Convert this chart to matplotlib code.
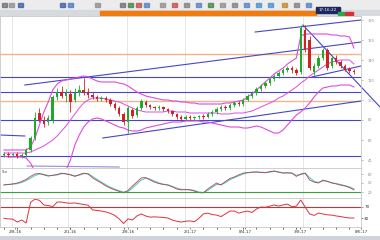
import numpy as np
import matplotlib
matplotlib.use("Agg")
import matplotlib.pyplot as plt
from matplotlib.patches import Rectangle

# weekly candles (price units)
opens = [45, 46, 45, 46, 44, 45, 50, 62, 87, 80, 78, 80, 103, 108, 104, 106, 100, 107, 110, 107,
         105, 103, 101, 102, 100, 96, 92, 86, 78, 90, 85, 92, 98, 95, 93, 92, 93, 91, 89, 86,
         83, 81, 83, 82, 83, 84, 83, 86, 88, 91, 93, 92, 95, 97, 96, 100, 104, 107, 111, 114,
         117, 121, 124, 127, 130, 132, 130, 128, 170, 160, 128, 134, 142, 150, 134, 142, 138, 134, 131, 129]
closes = [46, 45, 46, 44, 45, 50, 62, 82, 80, 76, 82, 103, 108, 104, 107, 98, 107, 110, 107, 105,
          103, 101, 102, 100, 96, 92, 86, 78, 92, 84, 92, 99, 95, 93, 92, 93, 91, 89, 86, 83,
          81, 83, 82, 83, 84, 83, 86, 88, 91, 93, 92, 95, 97, 96, 100, 104, 107, 111, 114, 117,
          121, 124, 127, 130, 132, 130, 127, 172, 150, 132, 134, 142, 150, 132, 142, 138, 134, 131, 129, 128]
highs = [48, 48, 47, 48, 47, 52, 64, 88, 92, 84, 85, 105, 112, 114, 111, 110, 112, 115, 122, 112,
         108, 105, 104, 104, 102, 98, 94, 88, 94, 92, 94, 101, 100, 96, 94, 95, 94, 92, 90, 87,
         85, 85, 85, 84, 85, 86, 88, 90, 93, 95, 95, 97, 99, 99, 102, 106, 109, 113, 116, 119,
         123, 126, 129, 132, 134, 134, 132, 175, 175, 164, 137, 145, 152, 152, 145, 145, 140, 136, 133, 131]
lows = [43, 43, 44, 42, 42, 43, 48, 60, 78, 73, 75, 77, 100, 102, 98, 88, 98, 104, 105, 102,
        101, 99, 99, 98, 94, 90, 84, 75, 67, 82, 83, 90, 93, 91, 90, 90, 89, 87, 84, 81,
        79, 80, 80, 80, 81, 81, 82, 84, 86, 89, 90, 90, 93, 94, 94, 99, 102, 105, 109, 112,
        115, 119, 122, 125, 128, 127, 125, 126, 148, 130, 125, 132, 140, 130, 132, 136, 132, 129, 127, 126]

# bollinger bands
upper_band = [50, 50, 50, 50, 50, 50, 53, 62, 75, 88, 98, 110, 116, 119, 120, 121, 122, 123, 124, 123,
              121, 119, 118, 118, 118, 118, 117, 116, 114, 111, 108, 106, 104, 103, 102, 101, 100, 100, 99, 99,
              98, 98, 97, 97, 96, 96, 96, 96, 96, 96, 97, 97, 98, 99, 100, 103, 106, 110, 114, 118,
              122, 126, 129, 132, 136, 139, 142, 164, 166, 166, 166, 166, 166, 166, 165, 165, 164, 164, 163, 152]
mid_band = [47, 47, 47, 47, 47, 47, 48, 50, 52, 54, 57, 60, 64, 69, 74, 80, 86, 92, 97, 100,
            102, 102, 102, 101, 100, 99, 98, 96, 94, 92, 90, 89, 88, 88, 88, 88, 88, 89, 89, 88,
            88, 88, 87, 87, 87, 87, 87, 87, 87, 86, 86, 86, 87, 87, 87, 88, 89, 91, 93, 95,
            97, 99, 102, 104, 107, 110, 113, 117, 120, 124, 127, 130, 133, 136, 138, 139, 140, 140, 140, 136]
lower_band = [44, 43, 43, 43, 43, 42, 37, 28, 20, 15, 12, 10, 15, 22, 30, 40, 55, 65, 73, 78,
              81, 82, 81, 79, 77, 75, 73, 72, 70, 69, 69, 70, 72, 73, 74, 75, 76, 77, 78, 78,
              78, 79, 79, 79, 79, 78, 78, 77, 76, 75, 74, 73, 73, 73, 72, 72, 73, 74, 73, 71,
              69, 67, 67, 70, 75, 80, 85, 88, 92, 97, 103, 108, 112, 113, 114, 114, 115, 115, 115, 113]

# stochastic
stoch_k = [43, 45, 47, 50, 55, 62, 72, 80, 82, 77, 73, 76, 78, 83, 80, 77, 72, 78, 83, 80,
           67, 58, 50, 40, 33, 27, 22, 17, 25, 40, 53, 67, 68, 60, 53, 48, 45, 43, 37, 30,
           27, 28, 27, 23, 18, 17, 30, 40, 50, 43, 55, 65, 70, 77, 83, 85, 86, 87, 85, 84,
           88, 90, 86, 83, 84, 83, 72, 80, 83, 60, 53, 50, 60, 55, 50, 47, 43, 40, 35, 27]
stoch_d = [45, 45, 46, 48, 52, 58, 66, 75, 80, 79, 75, 75, 77, 81, 81, 78, 74, 76, 81, 81,
           72, 62, 53, 44, 36, 30, 24, 20, 22, 33, 47, 60, 66, 63, 56, 50, 46, 44, 39, 33,
           29, 28, 28, 25, 20, 18, 25, 36, 45, 45, 51, 61, 68, 74, 80, 84, 86, 86, 86, 85,
           86, 89, 87, 84, 84, 83, 76, 78, 82, 68, 56, 52, 57, 56, 51, 48, 45, 41, 37, 30]

# rsi
rsi = [30, 28, 27, 17, 24, 14, 85, 96, 92, 76, 74, 70, 86, 86, 83, 82, 83, 80, 78, 75,
       59, 57, 55, 52, 47, 40, 28, 12, 28, 24, 38, 45, 38, 34, 35, 34, 33, 31, 24, 20,
       17, 20, 21, 18, 30, 45, 48, 43, 41, 36, 45, 55, 55, 48, 52, 55, 50, 62, 69, 68,
       72, 76, 72, 76, 79, 70, 72, 93, 69, 45, 40, 48, 45, 42, 41, 38, 36, 33, 31, 31]

blue_levels = [123, 108, 80, 44]
orange_levels = [146, 99]
# trend lines: (bar, price) -> (bar, price)
trend_lines = [
    ((4.7, 115), (80.6, 158)),
    ((56.7, 168), (80.6, 180)),
    ((22.3, 62), (80.6, 99)),
    ((69.5, 123), (80.6, 134)),
    ((-0.9, 65), (4.7, 64)),
]
down_line = ((67.5, 175), (84.9, 93))

date_pos = [2.5, 14.9, 28.0, 42.0, 54.4, 66.8, 80.6]
date_labels = ["2/8-16", "2/1-16", "2/8-16", "2/1-17", "8/4-17", "3/8-17", "8/6-17"]
grid_pos = [1.8, 14.4, 27.8, 40.9, 54.4, 67.5]

W, H = 380, 240


def box(x0, y0, x1, y1):
    return [x0 / W, 1 - y1 / H, (x1 - x0) / W, (y1 - y0) / H]


fig = plt.figure(figsize=(3.8, 2.4), dpi=100)
fig.patch.set_facecolor('white')

# toolbar strip
bar = fig.add_axes(box(0, 0, 380, 16))
bar.set_xlim(0, 380)
bar.set_ylim(16, 0)
bar.axis('off')
bar.add_patch(Rectangle((0, 0), 380, 10, color='#ececec'))
bar.add_patch(Rectangle((0, 10), 380, 6, color='#d6d9de'))
bar.add_patch(Rectangle((100, 11), 216, 4, color='#f07c10'))
bar.add_patch(Rectangle((316, 7), 24, 6, color='#1b2a5c'))
bar.text(328, 10, "17:16:22", color='white', fontsize=3, ha='center', va='center')
bar.add_patch(Rectangle((338, 12), 6, 3, color='#2aa84a'))
bar.add_patch(Rectangle((345, 12), 8, 3, color='#d63030'))
icon_x = [2, 9, 18, 60, 68, 95, 120, 128, 136, 144, 160, 172, 184, 196, 208, 220, 232, 244, 256, 268, 282, 294, 306]
icon_c = ['#666666', '#888888', '#3050a0', '#3050a0', '#4070c0', '#888888', '#666666', '#3a7a3a', '#c04040',
          '#4a7ac0', '#888888', '#c04040', '#777777', '#4a7ac0', '#3a7a3a', '#888888', '#777777', '#4a7ac0',
          '#3a8ad0', '#3a8ad0', '#c08020', '#777777', '#4a7ac0']
for ix, ic in zip(icon_x, icon_c):
    bar.add_patch(Rectangle((ix, 3), 5, 4, color=ic, alpha=0.7))

ax = fig.add_axes(box(0, 16, 361, 168))
ax1 = fig.add_axes(box(0, 168, 361, 198), sharex=ax)
ax2 = fig.add_axes(box(0, 198, 361, 227), sharex=ax)

idx = np.arange(len(closes))
o = np.array(opens)
c = np.array(closes)
up = c >= o
colors = np.where(up, '#1faa2a', '#d42020')

for a in (ax, ax1, ax2):
    for g in grid_pos:
        a.axvline(g, color='#e2e2e2', lw=0.6, zorder=0)
    for s in a.spines.values():
        s.set_color('#c8c8c8')
        s.set_linewidth(0.6)
    a.tick_params(left=False, labelleft=False, bottom=False, labelbottom=False,
                  right=True, labelright=True, labelsize=2.5, length=1.5, colors='#888888', width=0.4)

for lv in orange_levels:
    ax.axhline(lv, color='#f4b48a', lw=1.0, zorder=1)
for lv in blue_levels:
    ax.axhline(lv, color='#4646c8', lw=0.8, zorder=1)
for (x0, y0), (x1, y1) in trend_lines:
    ax.plot([x0, x1], [y0, y1], color='#4646c8', lw=0.8, zorder=1)
ax.plot([down_line[0][0], down_line[1][0]], [down_line[0][1], down_line[1][1]],
        color='#4646c8', lw=0.8, zorder=1, clip_on=False)
ax.plot([5.2, 26], [34, 33], color='#9a8ad8', lw=0.8, zorder=1)

ax.plot(idx, upper_band, color='#e04ae0', lw=0.8, zorder=2)
ax.plot(idx, mid_band, color='#e04ae0', lw=0.7, zorder=2)
ax.plot(idx, lower_band, color='#e04ae0', lw=0.8, zorder=2)

ax.vlines(idx, lows, highs, colors=colors, lw=0.6, zorder=3)
body = np.maximum(np.abs(c - o), 0.8)
ax.bar(idx, body, bottom=np.minimum(o, c), width=0.55, color=colors, zorder=4)

ax.set_xlim(-0.9, 80.6)
ax.set_ylim(32, 184)
ax.set_yticks([40, 60, 80, 100, 120, 140, 160, 180])

ax1.plot(idx, stoch_d, color='#4fd0cc', lw=0.8)
ax1.plot(idx, stoch_k, color='#b8404a', lw=0.6)
ax1.axhline(20, color='#3aa040', lw=0.8)
ax1.set_ylim(0, 100)
ax1.set_yticks([20, 50, 80])
ax1.text(0.005, 0.93, "Sto", transform=ax1.transAxes, fontsize=2.5, color='#444444', va='top')

ax2.plot(idx, rsi, color='#e0303e', lw=0.7)
ax2.axhline(70, color='#c03838', lw=0.8)
ax2.set_ylim(0, 100)
ax2.set_yticks([30, 70])

ax2.tick_params(bottom=True, labelbottom=True, labelsize=3, length=1.5, pad=0.8, colors='#333333')
ax2.set_xticks(date_pos)
ax2.set_xticklabels(date_labels)
ax2.set_xticks(idx[::3], minor=True)
ax2.tick_params(axis='x', which='minor', length=1.2, width=0.5, colors='#222222')

bot = fig.add_axes(box(0, 236, 380, 240))
bot.axis('off')
bot.add_patch(Rectangle((0, 0), 1, 1, color='#d0d3d8', transform=bot.transAxes))

fig.savefig('out.png', dpi=100)
